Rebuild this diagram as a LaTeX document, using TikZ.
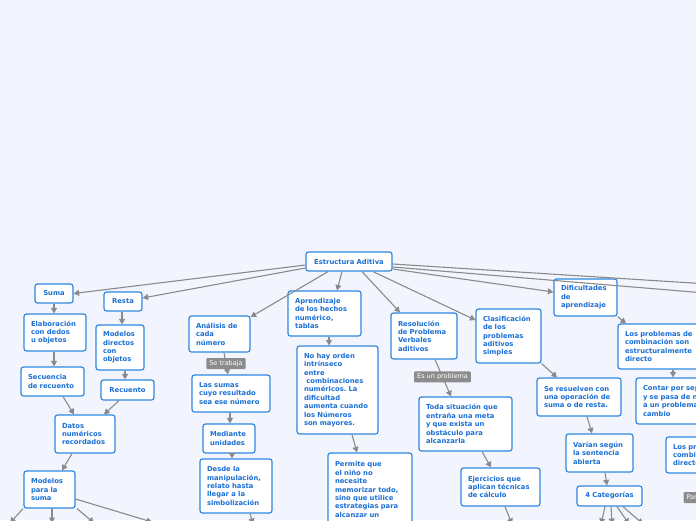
\documentclass[tikz,border=0pt]{standalone}
\usepackage{fontspec}
\setmainfont{DejaVu Sans}
\usetikzlibrary{arrows.meta}
\definecolor{bgc}{HTML}{F2F5FD}
\definecolor{nodeblue}{HTML}{2F86E0}
\definecolor{textblue}{HTML}{1B6FD5}
\definecolor{linegray}{HTML}{8A8A8A}
\definecolor{labgray}{HTML}{8C8C8C}
\tikzset{
  box/.style={draw=nodeblue, line width=1.2pt, fill=white, rounded corners=2.5pt,
    font=\bfseries\fontsize{6.8}{8.4}\selectfont, text=textblue, align=left,
    inner xsep=7pt, inner ysep=2pt},
  cbox/.style={box, align=center},
  lab/.style={fill=labgray, text=white, font=\fontsize{6.5}{7}\selectfont,
    inner xsep=3pt, inner ysep=1.5pt, rounded corners=1pt, minimum height=11pt},
  arr/.style={draw=linegray, line width=1.1pt, -{Triangle[length=5.5pt,width=6pt]}},
}
\begin{document}
\begin{tikzpicture}[x=1pt,y=-1pt]
\useasboundingbox (0,0) rectangle (696,520);
\fill[bgc] (0,0) rectangle (696,520);
\clip (0,0) rectangle (696,520);

% nodes
\node[cbox, minimum width=86pt, minimum height=19pt, text width=72pt] (root) at (349,261.5) {Estructura~Aditiva};
\node[cbox, minimum width=38pt, minimum height=19pt, text width=24pt] (suma) at (54,293.5) {Suma};
\node[cbox, minimum width=38pt, minimum height=19pt, text width=24pt] (resta) at (123,301.5) {Resta};
\node[box, minimum width=62pt, minimum height=37pt, text width=48pt] (elab) at (55,332.5) {Elaboración\\con~dedos\\u~objetos};
\node[box, minimum width=48pt, minimum height=45pt, text width=34pt] (moddir) at (120,347.5) {Modelos\\directos\\con\\objetos};
\node[box, minimum width=63pt, minimum height=29pt, text width=49pt] (secu) at (52.5,381.5) {Secuencia\\de~recuento};
\node[cbox, minimum width=53pt, minimum height=20pt, text width=39pt] (recu) at (127.5,390) {Recuento};
\node[box, minimum width=60pt, minimum height=38pt, text width=46pt] (datos) at (85,434) {Datos\\numéricos\\recordados};
\node[box, minimum width=51pt, minimum height=37pt, text width=37pt] (modsuma) at (49.5,489.5) {Modelos\\para~la\\suma};
\node[box, minimum width=61pt, minimum height=36pt, text width=47pt] (anal) at (219.5,334) {Análisis~de\\cada\\número};
\node[box, minimum width=78pt, minimum height=37pt, text width=64pt] (lassumas) at (231,393.5) {Las~sumas\\cuyo~resultado\\sea~ese~número};
\node[box, minimum width=52pt, minimum height=29pt, text width=38pt] (mediante) at (229,438.5) {Mediante\\unidades};
\node[box, minimum width=72pt, minimum height=54pt, text width=58pt] (desde) at (236,486) {Desde~la\\manipulación,\\relato~hasta\\llegar~a~la\\simbolización};
\node[box, minimum width=73pt, minimum height=45pt, text width=59pt] (aprend) at (324.5,313.5) {Aprendizaje\\de~los~hechos\\numérico,\\tablas};
\node[box, minimum width=81pt, minimum height=88pt, text width=67pt] (nohay) at (337.5,390) {No~hay~orden\\intrínseco\\entre\\\hspace*{0.35em}combinaciones\\numéricos.~La\\dificultad\\aumenta~cuando\\los~Números\\son~mayores.};
\node[box, minimum width=84pt, minimum height=73pt, text width=70pt] (permite) at (370,489.5) {Permite~que\\el~niño~no\\necesite\\memorizar~todo,\\sino~que~utilice\\estrategias~para\\alcanzar~un};
\node[box, minimum width=66pt, minimum height=46pt, text width=52pt] (resol) at (424,336) {Resolución\\de~Problema\\Verbales\\aditivos};
\node[box, minimum width=93pt, minimum height=54pt, text width=79pt] (toda) at (465.5,424) {Toda~situación~que\\entraña~una~meta\\y~que~exista~un\\obstáculo~para\\alcanzarla};
\node[box, minimum width=79pt, minimum height=38pt, text width=65pt] (ejer) at (500.5,487) {Ejercicios~que\\aplican~técnicas\\de~cálculo};
\node[box, minimum width=65pt, minimum height=54pt, text width=51pt] (clasif) at (508.5,336) {Clasificación\\de~los\\problemas\\aditivos\\simples};
\node[box, minimum width=63pt, minimum height=37pt, text width=49pt] (dific) at (585.5,297.5) {Dificultades\\de\\aprendizaje};
\node[box, minimum width=88pt, minimum height=45pt, text width=74pt] (combin) at (662,346.5) {Los~problemas~de\\combinación~son\\estructuralmente\\directo};
\node[box, minimum width=84pt, minimum height=38pt, text width=70pt] (seresu) at (579,397) {Se~resuelven~con\\una~operación~de\\suma~o~de~resta.};
\node[box, minimum width=100pt, minimum height=46pt, text width=86pt] (contar) at (686,401) {Contar~por~separado\\y~se~pasa~de~nuevo\\a~un~problema~de\\cambio};
\node[box, minimum width=67pt, minimum height=38pt, text width=53pt] (varian) at (599.5,453) {Varían~según\\la~sentencia\\abierta};
\node[box, minimum width=90pt, minimum height=36pt, text width=76pt] (lospr) at (711,455) {Los~problemas~de\\combinación\\directos};
\node[cbox, minimum width=65pt, minimum height=20pt, text width=51pt] (cat) at (609.5,496) {4~Categorías};

% off-canvas ends
\coordinate (offR1) at (800,289.8);
\coordinate (offR2) at (800,300.9);
\coordinate (ms1) at (10,523);
\coordinate (ms2) at (52,523);
\coordinate (ms3) at (94,523);
\coordinate (ms4) at (152,522);
\coordinate (ds1) at (253,524);
\coordinate (ej1) at (512,524);
\coordinate (ct1) at (601,524);
\coordinate (ct2) at (612,524);
\coordinate (ct3) at (629,524);
\coordinate (ct4) at (643,524);
\coordinate (lp1) at (705,540);

% connectors from root
\draw[arr] (root.west |- 0,265) -- (suma.east);
\draw[arr] (root.west |- 0,268) -- (resta.east |- 0,298);
\draw[arr] (root.south -| 328,0) -- (anal.east |- 0,317);
\draw[arr] (root.south -| 342,0) -- (aprend.north -| 337,0);
\draw[arr] (root.south -| 362,0) -- (resol.north -| 400,0);
\draw[arr] (root.south -| 373,0) -- (clasif.west |- 0,320);
\draw[arr] (root.east |- 0,269) -- (dific.west |- 0,292);
\draw[arr] (root.east |- 0,264) -- (offR1);
\draw[arr] (root.east |- 0,267) -- (offR2);

% left branch
\draw[arr] (suma.south) -- (elab.north -| suma.south);
\draw[arr] (elab.south -| 54,0) -- (secu.north -| 54,0);
\draw[arr] (resta.south -| 122,0) -- (moddir.north -| 122,0);
\draw[arr] (moddir.south -| 125,0) -- (recu.north -| 125,0);
\draw[arr] (secu.south -| 63,0) -- (datos.north -| 74,0);
\draw[arr] (recu.south -| 119,0) -- (datos.north -| 104,0);
\draw[arr] (datos.south -| 72,0) -- (modsuma.north -| 62,0);
\draw[arr] (modsuma.south -| 23,0) -- (ms1);
\draw[arr] (modsuma.south -| 52,0) -- (ms2);
\draw[arr] (modsuma.south -| 77,0) -- (ms3);
\draw[arr] (modsuma.east |- 0,499) -- (ms4);

% analisis branch
\draw[arr] (anal.south -| 224,0) -- node[lab] (lab1) {Se trabaja} (lassumas.north -| 228,0);
\draw[arr] (lassumas.south -| 230,0) -- (mediante.north -| 230,0);
\draw[arr] (mediante.south -| 232,0) -- (desde.north -| 232,0);
\draw[arr] (desde.south -| 250,0) -- (ds1);

% aprendizaje branch
\draw[arr] (aprend.south -| 329,0) -- (nohay.north -| 329,0);
\draw[arr] (nohay.south -| 352,0) -- (permite.north -| 357,0);

% resolucion branch
\draw[arr] (resol.south -| 435,0) -- node[lab, pos=0.47] (lab2) {Es un problema} (toda.north -| 451,0);
\draw[arr] (toda.south -| 482,0) -- (ejer.north -| 491,0);
\draw[arr] (ejer.south -| 505,0) -- (ej1);

% clasificacion branch
\draw[arr] (clasif.south east) -- (seresu.north -| 557,0);
\draw[arr] (seresu.south -| 587,0) -- (varian.north -| 592,0);
\draw[arr] (varian.south -| 605,0) -- (cat.north -| 607,0);
\draw[arr] (cat.south -| 605,0) -- (ct1);
\draw[arr] (cat.south -| 611,0) -- (ct2);
\draw[arr] (cat.south -| 617,0) -- (ct3);
\draw[arr] (cat.south -| 623,0) -- (ct4);

% dificultades branch
\draw[arr] (dific.south east) -- (combin.north -| 626,0);
\draw[arr] (combin.south -| 673,0) -- (contar.north -| 673,0);
\draw[arr] (lospr.south -| 705,0) -- node[lab, pos=0.36, anchor=west, xshift=-22pt] (lab3) {Parte-todo} (lp1);
\end{tikzpicture}
\end{document}
